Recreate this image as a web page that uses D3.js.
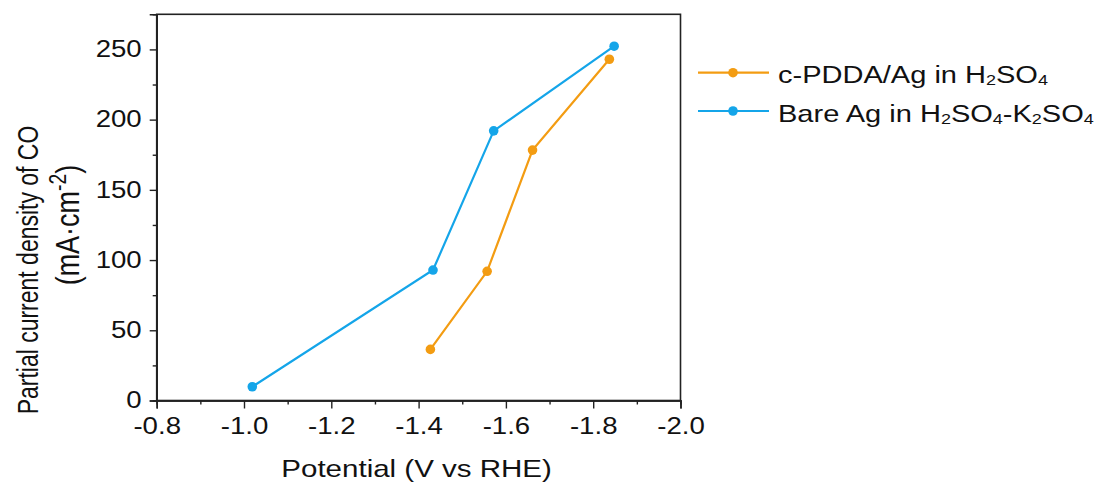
<!DOCTYPE html>
<html><head><meta charset="utf-8">
<script src="https://cdn.jsdelivr.net/npm/d3@7"></script>
<style>
body{margin:0;background:#fff}
text{font-family:"Liberation Sans",Arial,sans-serif;fill:#111}
</style></head>
<body><svg id="c" width="1102" height="486"></svg>
<script>
// ---- data ----
const potentialPDDA = [-1.427, -1.557, -1.661, -1.837];
const currentPDDA   = [36.4, 92.0, 178.3, 243.0];
const potentialBare = [-1.019, -1.433, -1.572, -1.848];
const currentBare   = [9.8, 92.9, 192.0, 252.3];
const seriesNames = ["c-PDDA/Ag in H2SO4", "Bare Ag in H2SO4-K2SO4"];
const seriesColors = ["#F39C12", "#14A5E9"];
const xTicks = [-0.8, -1.0, -1.2, -1.4, -1.6, -1.8, -2.0];
const xMinor = [-0.9, -1.1, -1.3, -1.5, -1.7, -1.9];
const yTicks = [0, 50, 100, 150, 200, 250];
const yMinor = [25, 75, 125, 175, 225];
const xTitle = "Potential (V vs RHE)";
const yTitle1 = "Partial current density of CO";

const SX = 1.2; // horizontal text stretch seen in the reference
const svg = d3.select("#c");
const L = 156.7, R = 680.5, T = 14.3, B = 400.5;
const x = d3.scaleLinear().domain([-0.8, -2.0]).range([L, R]);
const y = d3.scaleLinear().domain([0, 275]).range([B, T]);

// frame
svg.append("rect").attr("x", L).attr("y", T).attr("width", R - L).attr("height", B - T)
  .attr("fill", "none").attr("stroke", "#222").attr("stroke-width", 1.6);

// x axis
const gx = svg.append("g").attr("transform", `translate(0,${B})`)
  .call(d3.axisBottom(x).tickValues(xTicks).tickSize(8).tickPadding(9).tickFormat(d => d.toFixed(1)));
svg.append("g").attr("transform", `translate(0,${B})`)
  .call(d3.axisBottom(x).tickValues(xMinor).tickSize(4).tickFormat(""));
// y axis
const gy = svg.append("g").attr("transform", `translate(${L},0)`)
  .call(d3.axisLeft(y).tickValues(yTicks).tickSize(7).tickPadding(8).tickFormat(d3.format("d")));
svg.append("g").attr("transform", `translate(${L},0)`)
  .call(d3.axisLeft(y).tickValues(yMinor).tickSize(4).tickFormat(""));

svg.selectAll(".domain").attr("stroke", "#222").attr("stroke-width", 1.6);
svg.selectAll(".tick line").attr("stroke", "#222").attr("stroke-width", 1.4);
gx.selectAll(".tick text").attr("font-size", 23).attr("fill", "#111")
  .attr("font-family", '"Liberation Sans",Arial,sans-serif')
  .attr("transform", `scale(${SX},1)`).attr("x", 0);
gy.selectAll(".tick text").attr("font-size", 23).attr("fill", "#111")
  .attr("font-family", '"Liberation Sans",Arial,sans-serif')
  .attr("x", -15 / SX).attr("transform", `scale(${SX},1)`);

// titles
svg.append("text").attr("transform", `translate(${(L + R) / 2 - 2},476.5) scale(${SX},1)`)
  .attr("text-anchor", "middle").attr("font-size", 24.6).text(xTitle);
svg.append("text").attr("transform", `translate(37.5,270) scale(${SX + 0.05},1) rotate(-90)`)
  .attr("text-anchor", "middle").attr("font-size", 23).text(yTitle1);
const t2 = svg.append("text").attr("transform", `translate(78.5,225) scale(${SX},1) rotate(-90)`)
  .attr("text-anchor", "middle").attr("font-size", 27);
t2.append("tspan").text("(mA\u00B7cm");
t2.append("tspan").attr("font-size", "0.72em").attr("dy", "-0.55em").text("-2");
t2.append("tspan").attr("dy", "0.396em").text(")");

// series
const series = [
  {xs: potentialPDDA, ys: currentPDDA, color: seriesColors[0]},
  {xs: potentialBare, ys: currentBare, color: seriesColors[1]}
];
const line = d3.line().x(d => x(d[0])).y(d => y(d[1]));
series.forEach(s => {
  const pts = s.xs.map((v, i) => [v, s.ys[i]]);
  svg.append("path").datum(pts).attr("d", line).attr("fill", "none")
    .attr("stroke", s.color).attr("stroke-width", 2.2);
  svg.append("g").selectAll("circle").data(pts).join("circle")
    .attr("cx", d => x(d[0])).attr("cy", d => y(d[1])).attr("r", 4.8).attr("fill", s.color);
});

// legend
function chem(textSel, str) {
  // render digits after letters as subscripts
  const parts = str.split(/(\d)/);
  let sub = false;
  parts.forEach(p => {
    if (p === "") return;
    if (/^\d$/.test(p)) {
      textSel.append("tspan").attr("font-size", "0.62em").attr("dy", "0.15em").text(p);
      sub = true;
    } else {
      const ts = textSel.append("tspan").text(p);
      if (sub) { ts.attr("dy", "-0.093em"); sub = false; }
    }
  });
}
const legRows = [72.7, 111];
series.forEach((s, i) => {
  const g = svg.append("g");
  g.append("line").attr("x1", 698).attr("x2", 769).attr("y1", legRows[i]).attr("y2", legRows[i])
    .attr("stroke", s.color).attr("stroke-width", 2.2);
  g.append("circle").attr("cx", 733).attr("cy", legRows[i]).attr("r", 4.8).attr("fill", s.color);
  const t = g.append("text").attr("transform", `translate(778,${legRows[i] + 10.5}) scale(${SX - 0.01},1)`)
    .attr("font-size", 24.4);
  chem(t, seriesNames[i]);
});
</script>
</body></html>
